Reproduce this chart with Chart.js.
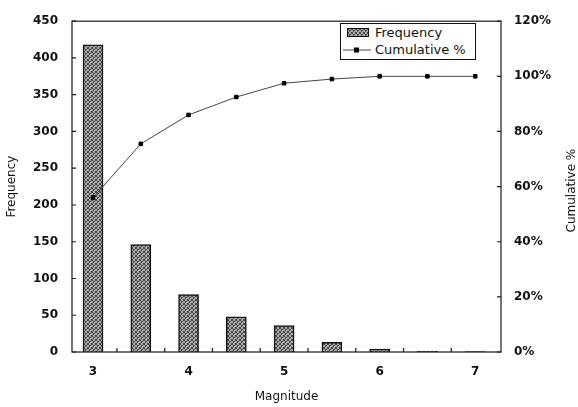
<!DOCTYPE html>
<html>
<head>
<meta charset="utf-8">
<script src="https://cdn.jsdelivr.net/npm/chart.js@4/dist/chart.umd.min.js"></script>
<style>
  body { margin: 0; background: #fff; }
  #wrap { position: relative; width: 578px; height: 407px; }
  #legend {
      position: absolute; left: 340px; top: 23px; width: 134px; height: 35px;
      border: 1px solid #111; background: #fff;
      font: 13px "DejaVu Sans", sans-serif; color: #111;
  }
  #legend .row { display: flex; align-items: center; height: 17px; }
  #legend .sw { width: 20px; height: 7px; margin: 0 6px 0 6px; border: 1px solid #111; }
  #legend svg { margin: 0 4px 0 2px; }
</style>
</head>
<body>
<div id="wrap">
  <canvas id="c" width="578" height="407"></canvas>
  <div id="legend">
    <div class="row"><span class="sw" id="sw"></span>Frequency</div>
    <div class="row"><svg width="28" height="8"><line x1="0" y1="4" x2="28" y2="4" stroke="#444" stroke-width="1"/><rect x="11" y="1.5" width="5" height="5" fill="#000"/></svg>Cumulative %</div>
  </div>
</div>
<script>
// Values
let magnitudes = [3, 3.5, 4, 4.5, 5, 5.5, 6, 6.5, 7]
let frequency = [418, 146, 78, 48, 36, 13, 4, 1, 0.5]
let cumulative = [56, 75.5, 86, 92.5, 97.5, 99, 100, 100, 100]

let freq_ticks = { min: 0, max: 450, step: 50 }
let pct_ticks = { min: 0, max: 120, step: 20 }

// Scanned-looking stipple for the bars (4x4 tile, no clear direction)
function stipple_canvas() {
    let c = document.createElement("canvas")
    c.width = 4
    c.height = 4
    let g = c.getContext("2d")
    g.fillStyle = "#adadad"
    g.fillRect(0, 0, 4, 4)
    g.fillStyle = "#454545"
    for (let [px, py] of [[0, 0], [2, 1], [1, 2], [3, 3], [3, 0], [1, 1], [0, 3]]) {
        g.fillRect(px, py, 1, 1)
    }
    return c
}

let canvas = document.getElementById("c")
let ctx = canvas.getContext("2d")
let tile = stipple_canvas()
let bar_fill = ctx.createPattern(tile, "repeat")
document.getElementById("sw").style.background = "url(" + tile.toDataURL() + ")"

let tick_font = { family: "'DejaVu Sans', sans-serif", size: 12, weight: "bold" }
let title_font = { family: "'DejaVu Sans', sans-serif", size: 12 }

// Frame around the plot, inward tick marks, and the right-hand title (which reads bottom-to-top)
let frame_plugin = {
    id: "frame",
    afterDatasetsDraw(chart) {
        let { ctx, chartArea: a, scales } = chart
        ctx.save()
        ctx.strokeStyle = "#1a1a1a"
        ctx.lineWidth = 1.2
        ctx.strokeRect(a.left, a.top, a.right - a.left, a.bottom - a.top)
        ctx.beginPath()
        for (let t of scales.y.ticks) {
            let py = scales.y.getPixelForValue(t.value)
            ctx.moveTo(a.left, py)
            ctx.lineTo(a.left + 4, py)
        }
        for (let t of scales.y1.ticks) {
            let py = scales.y1.getPixelForValue(t.value)
            ctx.moveTo(a.right, py)
            ctx.lineTo(a.right - 4, py)
        }
        for (let i = 0; i < magnitudes.length - 1; i++) {
            let px = scales.x.getPixelForValue((magnitudes[i] + magnitudes[i + 1]) / 2)
            ctx.moveTo(px, a.bottom)
            ctx.lineTo(px, a.bottom - 4)
        }
        ctx.stroke()
        ctx.restore()
    },
    afterDraw(chart) {
        let { ctx, chartArea: a } = chart
        ctx.save()
        ctx.translate(572, (a.top + a.bottom) / 2 + 4)
        ctx.rotate(-Math.PI / 2)
        ctx.font = "12px 'DejaVu Sans', sans-serif"
        ctx.fillStyle = "#111"
        ctx.textAlign = "center"
        ctx.textBaseline = "middle"
        ctx.fillText("Cumulative %", 0, 0)
        ctx.restore()
    }
}

let no_grid = { display: false, drawTicks: false }

new Chart(canvas, {
    type: "bar",
    data: {
        datasets: [
            {
                type: "line",
                label: "Cumulative %",
                data: magnitudes.map((m, i) => ({ x: m, y: cumulative[i] })),
                yAxisID: "y1",
                borderColor: "#444",
                borderWidth: 1,
                pointStyle: "rect",
                pointRadius: 2.5,
                pointBackgroundColor: "#000",
                pointBorderColor: "#000",
                tension: 0,
                order: 0
            },
            {
                label: "Frequency",
                data: magnitudes.map((m, i) => ({ x: m, y: frequency[i] })),
                yAxisID: "y",
                backgroundColor: bar_fill,
                borderColor: "#111",
                borderWidth: 1.5,
                barThickness: 20,
                order: 1
            }
        ]
    },
    options: {
        responsive: false,
        animation: false,
        devicePixelRatio: 1,
        layout: { padding: { top: 13, left: 0, right: 0, bottom: 0 } },
        plugins: {
            legend: { display: false },
            tooltip: { enabled: false }
        },
        scales: {
            x: {
                type: "linear",
                position: "bottom",
                offset: false,
                min: 2.78,
                max: 7.27,
                grid: no_grid,
                border: { display: false },
                ticks: {
                    stepSize: 1,
                    includeBounds: false,
                    padding: 13,
                    color: "#111",
                    font: tick_font
                },
                title: {
                    display: true,
                    text: "Magnitude",
                    color: "#111",
                    font: title_font,
                    padding: { top: 0, bottom: 3 }
                },
                afterFit(scale) { scale.height = 55 }
            },
            y: {
                position: "left",
                min: freq_ticks.min,
                max: freq_ticks.max,
                grid: no_grid,
                border: { display: false },
                ticks: {
                    stepSize: freq_ticks.step,
                    padding: 14,
                    color: "#111",
                    font: tick_font
                },
                title: {
                    display: true,
                    text: "Frequency",
                    color: "#111",
                    font: title_font,
                    padding: { top: 5, bottom: 0 }
                },
                afterFit(scale) { scale.width = 72 }
            },
            y1: {
                position: "right",
                min: pct_ticks.min,
                max: pct_ticks.max,
                grid: no_grid,
                border: { display: false },
                ticks: {
                    stepSize: pct_ticks.step,
                    padding: 13,
                    color: "#111",
                    font: tick_font,
                    callback: v => v + "%"
                },
                afterFit(scale) { scale.width = 77 }
            }
        }
    },
    plugins: [frame_plugin]
})
</script>
</body>
</html>
